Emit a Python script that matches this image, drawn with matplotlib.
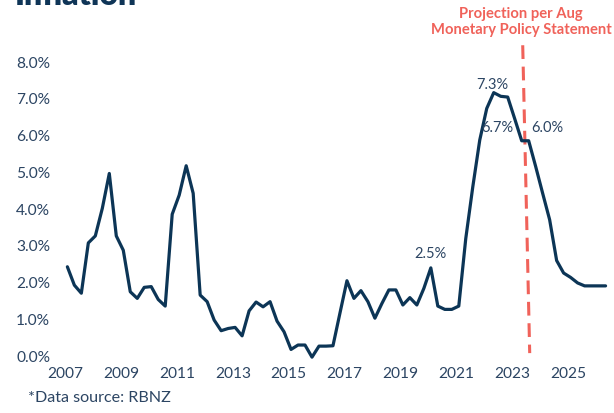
import numpy as np
import matplotlib
matplotlib.use("Agg")
import matplotlib.pyplot as plt

# ---- data ----
start_year = 2007
cpi = [2.43, 1.93, 1.71, 3.08, 3.27, 4.02, 4.97, 3.27, 2.88, 1.75,
       1.57, 1.87, 1.89, 1.54, 1.36, 3.86, 4.38, 5.18, 4.43, 1.66,
       1.48, 0.98, 0.69, 0.75, 0.78, 0.55, 1.23, 1.47, 1.34, 1.48,
       0.95, 0.66, 0.18, 0.30, 0.30, -0.03, 0.27, 0.27, 0.28, 1.17,
       2.05, 1.57, 1.78, 1.48, 1.03, 1.43, 1.80, 1.80, 1.39, 1.59,
       1.39, 1.84, 2.40, 1.36, 1.27, 1.27, 1.36, 3.20, 4.60, 5.88,
       6.74, 7.17, 7.07, 7.05, 6.46, 5.86, 5.86, 5.16, 4.43, 3.71,
       2.60, 2.26, 2.14, 1.99, 1.91, 1.91, 1.91, 1.91]
label_idx = [52, 61, 64, 66]
label_txt = ["2.5%", "7.3%", "6.7%", "6.0%"]
label_off = [(0, 14), (-1, 8), (-17, -9), (19, 13)]   # pixels
xticks = list(range(2007, 2027, 2))
yticks = [0, 1, 2, 3, 4, 5, 6, 7, 8]

navy = "#0c3556"
txtc = "#2c4563"
red = "#f0625a"

plt.rcParams['font.family'] = ['Lato', 'DejaVu Sans']

fig = plt.figure(figsize=(6.14, 4.13), dpi=100)
ax = fig.add_axes([60/614, 0.129, (614-60)/614, 0.765])

x = start_year + 1/12 + 0.25*np.arange(len(cpi))
ax.plot(x, cpi, color=navy, lw=2.3, solid_joinstyle='round', solid_capstyle='round', zorder=3)

# projection marker line (slightly slanted, as in the reference)
ax.plot([2023.37, 2023.62], [8.46, 0.08], color=red, lw=2.2,
        dashes=(4.5, 2.5), zorder=2)

for i, t, (dx, dy) in zip(label_idx, label_txt, label_off):
    ax.annotate(t, xy=(x[i], cpi[i]), xytext=(dx, dy), textcoords='offset pixels',
                ha='center', va='center', fontsize=10.5, color=txtc)

ax.set_xlim(2006.82, 2026.635)
ax.set_ylim(-0.1, 8.5)
ax.set_xticks(xticks)
ax.set_xticklabels([str(v) for v in xticks])
ax.set_yticks(yticks)
ax.set_yticklabels([f"{v:.1f}%" for v in yticks])
ax.tick_params(length=0, labelsize=11.2, labelcolor=txtc)
ax.tick_params(axis='x', pad=5)
ax.tick_params(axis='y', pad=7)
for s in ax.spines.values():
    s.set_visible(False)

fig.text(521/614, 1 - 22/413, "Projection per Aug\nMonetary Policy Statement",
         ha='center', va='center', fontsize=10.6, fontweight='bold', color=red,
         linespacing=1.25)
fig.text(28/614, 1 - 398/413, "*Data source: RBNZ", ha='left', va='center',
         fontsize=11.6, color=txtc)
fig.text(15/614, 1 - 5/413, "Inflation", ha='left', va='baseline',
         fontsize=23, fontweight='heavy', color="#0f3557")

fig.savefig("out.png", dpi=100)
